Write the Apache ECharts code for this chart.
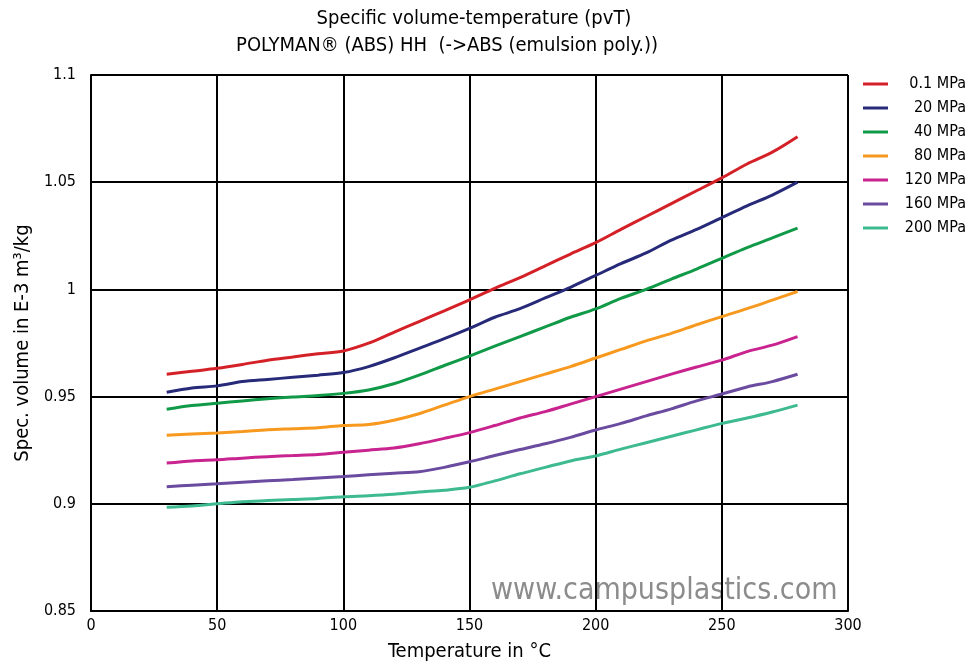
<!DOCTYPE html>
<html>
<head>
<meta charset="utf-8">
<script src="https://cdn.jsdelivr.net/npm/echarts@6/dist/echarts.min.js"></script>
<style>
  html, body { margin: 0; padding: 0; background: #fff; }
  #chart { width: 968px; height: 664px; }
</style>
</head>
<body>
<div id="chart"></div>
<script>
const temps = [30, 40, 50, 60, 70, 80, 90, 100, 110, 120, 130, 140, 150, 160, 170, 180, 190, 200, 210, 220, 230, 240, 250, 260, 270, 280]

const p01 = [0.9604, 0.9618, 0.9632, 0.965, 0.967, 0.9685, 0.970, 0.9713, 0.9749, 0.980, 0.985, 0.990, 0.9951, 1.0005, 1.0055, 1.011, 1.0165, 1.0218, 1.028, 1.034, 1.040, 1.046, 1.052, 1.0585, 1.064, 1.0712]
const p20 = [0.952, 0.954, 0.955, 0.957, 0.958, 0.959, 0.960, 0.9612, 0.964, 0.968, 0.9725, 0.977, 0.9818, 0.987, 0.991, 0.996, 1.001, 1.0065, 1.012, 1.017, 1.023, 1.028, 1.0335, 1.039, 1.044, 1.050]
const p40 = [0.9441, 0.9458, 0.9469, 0.948, 0.949, 0.9498, 0.9505, 0.9515, 0.9531, 0.956, 0.960, 0.9645, 0.9689, 0.9735, 0.978, 0.9825, 0.987, 0.9909, 0.9958, 1.000, 1.0048, 1.0095, 1.0145, 1.0195, 1.024, 1.0286]
const p80 = [0.932, 0.9325, 0.933, 0.9337, 0.9345, 0.935, 0.9355, 0.9365, 0.937, 0.939, 0.942, 0.946, 0.950, 0.9535, 0.957, 0.9605, 0.964, 0.968, 0.972, 0.976, 0.9795, 0.9835, 0.9873, 0.991, 0.995, 0.999]
const p120 = [0.919, 0.920, 0.9205, 0.9213, 0.922, 0.9225, 0.923, 0.924, 0.925, 0.926, 0.928, 0.9305, 0.9332, 0.9365, 0.940, 0.943, 0.9465, 0.950, 0.9535, 0.957, 0.9605, 0.9638, 0.967, 0.971, 0.974, 0.978]
const p160 = [0.908, 0.9087, 0.9093, 0.910, 0.9107, 0.9113, 0.912, 0.9127, 0.9135, 0.9143, 0.915, 0.917, 0.9196, 0.9225, 0.9253, 0.928, 0.931, 0.9344, 0.9375, 0.941, 0.9443, 0.948, 0.9512, 0.9545, 0.957, 0.9604]
const p200 = [0.8984, 0.899, 0.900, 0.901, 0.9015, 0.902, 0.9025, 0.9033, 0.9038, 0.9045, 0.9055, 0.9063, 0.9077, 0.9107, 0.914, 0.917, 0.920, 0.9223, 0.9255, 0.9285, 0.9315, 0.9345, 0.9375, 0.940, 0.9428, 0.946]

const seriesNames = ['0.1 MPa', '20 MPa', '40 MPa', '80 MPa', '120 MPa', '160 MPa', '200 MPa']
const seriesData = [p01, p20, p40, p80, p120, p160, p200]
const colors = ['#d42128', '#262a78', '#109a48', '#f7991e', '#c8238e', '#6a4b9f', '#3dba8f']

const xTicks = { min: 0, max: 300, interval: 50 }
const yTicks = { min: 0.85, max: 1.1, interval: 0.05 }

const font = 'DejaVu Sans Condensed, DejaVu Sans, sans-serif'

const chart = echarts.init(document.getElementById('chart'))
chart.setOption({
  animation: false,
  backgroundColor: '#fff',
  textStyle: { fontFamily: font },
  title: [
    { text: 'Specific volume-temperature (pvT)', left: 469, top: 4, textAlign: 'center',
      textStyle: { fontSize: 20, fontWeight: 'normal', color: '#000', fontFamily: font } },
    { text: 'POLYMAN® (ABS) HH  (->ABS (emulsion poly.))', left: 442, top: 31, textAlign: 'center',
      textStyle: { fontSize: 20, fontWeight: 'normal', color: '#000', fontFamily: font } }
  ],
  graphic: [{
    type: 'text', left: 491, top: 576,
    style: { text: 'www.campusplastics.com', fill: '#8c8c8c', font: '30px ' + font }
  }],
  legend: {
    orient: 'vertical', left: 863, top: 76, padding: 0, itemGap: 8,
    itemWidth: 25, itemHeight: 3, icon: 'rect',
    data: seriesNames,
    formatter: name => '{a|' + name + '}',
    textStyle: { rich: { a: { width: 73, align: 'right', fontSize: 16, color: '#000', fontFamily: font } } }
  },
  grid: { left: 91, right: 120, top: 75, bottom: 53, containLabel: false, outerBoundsMode: 'none' },
  xAxis: {
    type: 'value', min: xTicks.min, max: xTicks.max, interval: xTicks.interval,
    name: 'Temperature in °C', nameLocation: 'middle', nameGap: 31,
    nameTextStyle: { fontSize: 20, color: '#000', fontFamily: font },
    axisLine: { lineStyle: { color: '#000', width: 2 } },
    axisTick: { show: false },
    axisLabel: { color: '#000', fontSize: 16, margin: 7, fontFamily: font },
    splitLine: { show: true, lineStyle: { color: '#000', width: 2 } }
  },
  yAxis: {
    type: 'value', min: yTicks.min, max: yTicks.max, interval: yTicks.interval,
    name: 'Spec. volume in E-3 m³/kg', nameLocation: 'middle', nameGap: 58,
    nameTextStyle: { fontSize: 20, color: '#000', fontFamily: font },
    axisLine: { show: true, lineStyle: { color: '#000', width: 2 } },
    axisTick: { show: false },
    axisLabel: { color: '#000', fontSize: 16, margin: 15, fontFamily: font,
      formatter: v => String(+v.toFixed(2)) },
    splitLine: { show: true, lineStyle: { color: '#000', width: 2 } }
  },
  series: seriesData.map((d, i) => ({
    name: seriesNames[i],
    type: 'line',
    data: d.map((v, j) => [temps[j], v]),
    showSymbol: false,
    smooth: 0.3,
    lineStyle: { width: 3, color: colors[i] },
    itemStyle: { color: colors[i] }
  }))
})
</script>
</body>
</html>
